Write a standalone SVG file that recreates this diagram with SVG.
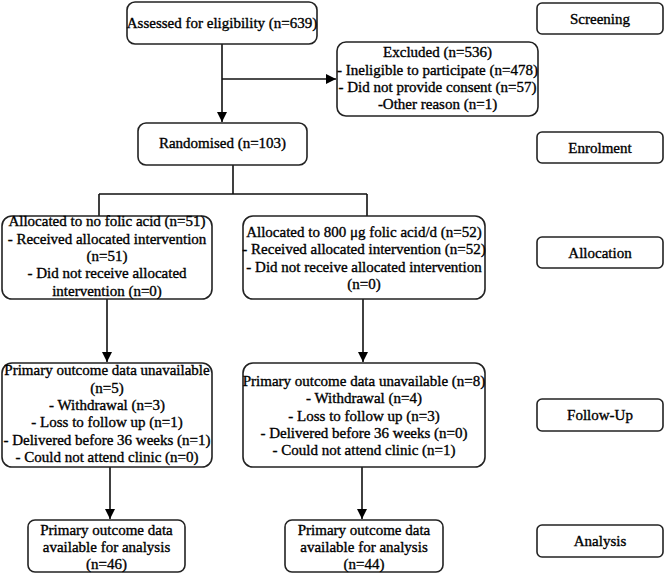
<svg xmlns="http://www.w3.org/2000/svg" width="666" height="575" viewBox="0 0 666 575">
<defs>
<marker id="arr" markerUnits="userSpaceOnUse" markerWidth="11" markerHeight="11" refX="10" refY="5" orient="auto">
<path d="M0,0 L10,5 L0,10 Z" fill="#000"/>
</marker>
<style>
rect{fill:#fff;stroke:#222;stroke-width:1.6}
text{font-family:"Liberation Serif","Times New Roman",serif;font-size:15px;fill:#000;stroke:#000;stroke-width:0.35;text-anchor:middle}
.c{fill:none;stroke:#111;stroke-width:1.6}
</style>
</defs>
<rect x="0" y="0" width="666" height="575" style="fill:#fff;stroke:none"/>
<g id="connectors">
<path class="c" d="M222,44 V122" marker-end="url(#arr)"/>
<path class="c" d="M222,79 H336" marker-end="url(#arr)"/>
<path class="c" d="M233,165 V194 M99,194 H367 M99,194 V216 M367,194 V216"/>
<path class="c" d="M107,299 V362" marker-end="url(#arr)"/>
<path class="c" d="M363,299 V362" marker-end="url(#arr)"/>
<path class="c" d="M110,467 V519" marker-end="url(#arr)"/>
<path class="c" d="M362,467 V519" marker-end="url(#arr)"/>
</g>
<g id="assessed">
<rect x="127" y="2" width="190" height="42" rx="8"/>
<text x="222" y="28">Assessed for eligibility (n=639)</text>
</g>
<g id="excluded">
<rect x="337" y="42" width="201" height="74" rx="9"/>
<text x="437.5" y="57">Excluded (n=536)</text>
<text x="437.5" y="74.5">- Ineligible to participate (n=478)</text>
<text x="437.5" y="92">- Did not provide consent (n=57)</text>
<text x="437.5" y="109">-Other reason (n=1)</text>
</g>
<g id="randomised">
<rect x="138" y="123" width="169" height="42" rx="8"/>
<text x="222.5" y="148">Randomised (n=103)</text>
</g>
<g id="alloc-left">
<rect x="2" y="216" width="210" height="83" rx="10"/>
<text x="107" y="226">Allocated to no folic acid (n=51)</text>
<text x="107" y="243.5">- Received allocated intervention</text>
<text x="107" y="261">(n=51)</text>
<text x="107" y="278">- Did not receive allocated</text>
<text x="107" y="295.5">intervention (n=0)</text>
</g>
<g id="alloc-right">
<rect x="243" y="216" width="242" height="83" rx="10"/>
<text x="364" y="237">Allocated to 800 μg folic acid/d (n=52)</text>
<text x="364" y="254">- Received allocated intervention (n=52)</text>
<text x="364" y="271.5">- Did not receive allocated intervention</text>
<text x="364" y="289">(n=0)</text>
</g>
<g id="followup-left">
<rect x="2" y="363" width="210" height="104" rx="10"/>
<text x="107" y="375">Primary outcome data unavailable</text>
<text x="107" y="392.5">(n=5)</text>
<text x="107" y="410">- Withdrawal (n=3)</text>
<text x="107" y="427">- Loss to follow up (n=1)</text>
<text x="107" y="444.5">- Delivered before 36 weeks (n=1)</text>
<text x="107" y="462">- Could not attend clinic (n=0)</text>
</g>
<g id="followup-right">
<rect x="243" y="363" width="242" height="104" rx="10"/>
<text x="364" y="386">Primary outcome data unavailable (n=8)</text>
<text x="364" y="403">- Withdrawal (n=4)</text>
<text x="364" y="420.5">- Loss to follow up (n=3)</text>
<text x="364" y="438">- Delivered before 36 weeks (n=0)</text>
<text x="364" y="455">- Could not attend clinic (n=1)</text>
</g>
<g id="analysis-left">
<rect x="28" y="520" width="157" height="52" rx="7"/>
<text x="106.5" y="534.5">Primary outcome data</text>
<text x="106.5" y="551.5">available for analysis</text>
<text x="106.5" y="568.5">(n=46)</text>
</g>
<g id="analysis-right">
<rect x="285" y="520" width="158" height="52" rx="7"/>
<text x="364" y="534.5">Primary outcome data</text>
<text x="364" y="551.5">available for analysis</text>
<text x="364" y="568.5">(n=44)</text>
</g>
<g id="label-screening">
<rect x="537" y="3" width="126" height="31" rx="5"/>
<text x="600" y="23.5">Screening</text>
</g>
<g id="label-enrolment">
<rect x="537" y="132" width="126" height="31" rx="5"/>
<text x="600" y="152.5">Enrolment</text>
</g>
<g id="label-allocation">
<rect x="537" y="237" width="126" height="31" rx="5"/>
<text x="600" y="257.5">Allocation</text>
</g>
<g id="label-followup">
<rect x="537" y="399" width="126" height="32" rx="5"/>
<text x="600" y="420">Follow-Up</text>
</g>
<g id="label-analysis">
<rect x="537" y="525" width="126" height="32" rx="5"/>
<text x="600" y="546">Analysis</text>
</g>
</svg>
